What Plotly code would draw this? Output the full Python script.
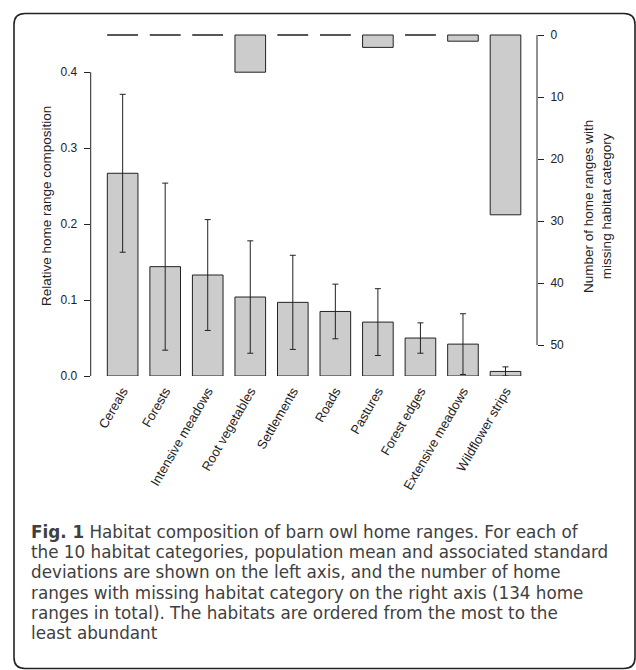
import plotly.graph_objects as go

# ---------------- data ----------------
categories = ["Cereals", "Forests", "Intensive meadows", "Root vegetables",
              "Settlements", "Roads", "Pastures", "Forest edges",
              "Extensive meadows", "Wildflower strips"]
mean_comp = [0.267, 0.144, 0.133, 0.104, 0.097, 0.085, 0.071, 0.050, 0.042, 0.006]
sd_comp = [0.104, 0.110, 0.073, 0.074, 0.062, 0.036, 0.044, 0.020, 0.040, 0.006]
missing = [0, 0, 0, 6, 0, 0, 2, 0, 1, 29]
left_ticks = [0.0, 0.1, 0.2, 0.3, 0.4]
right_ticks = [0, 10, 20, 30, 40, 50]
caption_bold = "Fig. 1"
caption_lines = [
    " Habitat composition of barn owl home ranges. For each of",
    "the 10 habitat categories, population mean and associated standard",
    "deviations are shown on the left axis, and the number of home",
    "ranges with missing habitat category on the right axis (134 home",
    "ranges in total). The habitats are ordered from the most to the",
    "least abundant",
]

# ---------------- layout geometry (pixels) ----------------
W, H = 636, 670
PX_L, PX_R = 90.7, 537.0          # plot area left / right
PX_T, PX_B = 30.0, 376.0          # plot area top / bottom
Y0_PIX, Y_SCALE = 376.0, 759.3    # left axis: pixel of 0, px per unit
Y2_0_PIX, Y2_SCALE = 35.0, 6.2    # right axis: pixel of 0, px per unit
C0, STEP = 122.65, 42.54          # first bar center px, px per category
BAR_W = 0.72

def px(x):
    return x / W

def py(y):
    return 1 - y / H

x_pos = list(range(len(categories)))
xrange_ = [(PX_L - C0) / STEP, (PX_R - C0) / STEP]
yrange = [(Y0_PIX - PX_B) / Y_SCALE, (Y0_PIX - PX_T) / Y_SCALE]
y2range = [(PX_B - Y2_0_PIX) / Y2_SCALE, (PX_T - Y2_0_PIX) / Y2_SCALE]

AX_FONT = dict(family="Liberation Sans, Arial, sans-serif", size=12, color="#222")
XLAB_FONT = dict(family="Liberation Sans, Arial, sans-serif", size=13, color="#222")
TITLE_FONT = dict(family="Liberation Sans, Arial, sans-serif", size=13.5, color="#222")
BAR_FILL = "#cccccc"
EDGE = "#222222"

fig = go.Figure()

fig.add_trace(go.Bar(
    x=x_pos, y=mean_comp, width=BAR_W,
    marker=dict(color=BAR_FILL, line=dict(color=EDGE, width=1)),
    error_y=dict(type="data", array=sd_comp, visible=True,
                 color=EDGE, thickness=1, width=3),
    yaxis="y", showlegend=False, cliponaxis=False,
))

fig.add_trace(go.Bar(
    x=x_pos, y=missing, width=BAR_W,
    marker=dict(color=BAR_FILL, line=dict(color=EDGE, width=1)),
    yaxis="y2", showlegend=False, cliponaxis=False,
))

# zero-count bars drawn as flat lines (as R draws zero-height bars)
dx, dy = [], []
for xi, m in zip(x_pos, missing):
    if m == 0:
        dx += [xi - BAR_W / 2, xi + BAR_W / 2, None]
        dy += [m, m, None]
fig.add_trace(go.Scatter(x=dx, y=dy, mode="lines", yaxis="y2",
                         line=dict(color="#555", width=1), showlegend=False,
                         hoverinfo="skip", cliponaxis=False))

shapes = [
    # left axis line spanning tick range
    dict(type="line", xref="paper", yref="y", x0=px(PX_L), x1=px(PX_L),
         y0=left_ticks[0], y1=left_ticks[-1], line=dict(color=EDGE, width=1)),
    # right axis line spanning tick range
    dict(type="line", xref="paper", yref="y2", x0=px(PX_R), x1=px(PX_R),
         y0=right_ticks[0], y1=right_ticks[-1], line=dict(color=EDGE, width=1)),
]

# rounded frame
L, R, T, B, r = 14.0, 635.0, 13.5, 668.5, 11.0
path = (f"M {px(L)},{py(T + r)} Q {px(L)},{py(T)} {px(L + r)},{py(T)} "
        f"L {px(R - r)},{py(T)} Q {px(R)},{py(T)} {px(R)},{py(T + r)} "
        f"L {px(R)},{py(B - r)} Q {px(R)},{py(B)} {px(R - r)},{py(B)} "
        f"L {px(L + r)},{py(B)} Q {px(L)},{py(B)} {px(L)},{py(B - r)} Z")
shapes.append(dict(type="path", xref="paper", yref="paper", path=path,
                   line=dict(color="#222", width=1.6)))

annotations = [
    dict(text="Relative home range composition", xref="paper", yref="paper",
         x=px(47), y=py(206), textangle=-90, showarrow=False,
         xanchor="center", yanchor="middle", font=TITLE_FONT),
    dict(text="Number of home ranges with<br>missing habitat category",
         xref="paper", yref="paper", x=px(597), y=py(207), textangle=-90,
         showarrow=False, xanchor="center", yanchor="middle", font=TITLE_FONT),
]

CAP_FONT = dict(family="DejaVu Sans, Open Sans, sans-serif", size=16.8, color="#404040")
cap_y0, cap_dy = 532.0, 20.2
for i, line in enumerate(caption_lines):
    txt = (f"<b>{caption_bold}</b>" + line) if i == 0 else line
    annotations.append(dict(text=txt, xref="paper", yref="paper",
                            x=px(29), y=py(cap_y0 + i * cap_dy),
                            xanchor="left", yanchor="middle",
                            showarrow=False, font=CAP_FONT, align="left"))

fig.update_layout(
    width=W, height=H,
    margin=dict(l=0, r=0, t=0, b=0, autoexpand=False),
    paper_bgcolor="white", plot_bgcolor="white",
    barmode="overlay",
    font=AX_FONT,
    xaxis=dict(domain=[px(PX_L), px(PX_R)], range=xrange_,
               tickvals=x_pos, ticktext=categories, tickangle=-60,
               showline=False, showgrid=False, zeroline=False, ticks="",
               tickfont=XLAB_FONT, ticklabelstandoff=4),
    yaxis=dict(domain=[py(PX_B), py(PX_T)], range=yrange,
               tickvals=left_ticks, tickformat=".1f",
               ticks="outside", ticklen=6, tickcolor=EDGE, tickwidth=1,
               showline=False, showgrid=False, zeroline=False,
               tickfont=AX_FONT, ticklabelstandoff=4),
    yaxis2=dict(domain=[py(PX_B), py(PX_T)], range=y2range,
                overlaying="y", side="right", anchor="x",
                tickvals=right_ticks,
                ticks="outside", ticklen=6, tickcolor=EDGE, tickwidth=1,
                showline=False, showgrid=False, zeroline=False,
                tickfont=AX_FONT, ticklabelstandoff=4),
    shapes=shapes,
    annotations=annotations,
)

fig.write_html(
    "out.html",
    config={"displayModeBar": False},
    post_script="document.body.style.margin='0';document.body.style.padding='0';"
                "document.documentElement.style.overflow='hidden';",
)
